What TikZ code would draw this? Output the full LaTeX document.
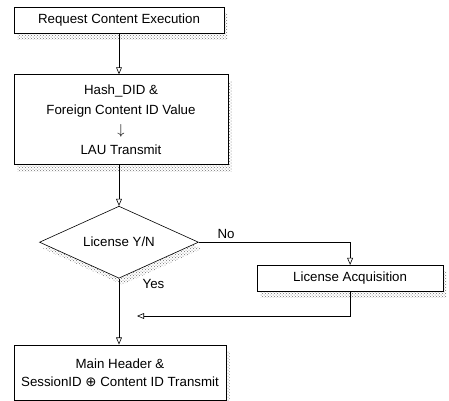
\documentclass[tikz,border=0pt]{standalone}
\usepackage{fontspec}
\setmainfont{Liberation Sans}
\newfontfamily\symfont{DejaVu Sans}
\usepackage{tikz}
\usetikzlibrary{positioning, arrows, shapes.geometric, shadows, patterns}
\newcommand{\Xor}{{\symfont ⊕}}
\tikzset{
    hatch shadow/.style={drop shadow={shadow xshift=3.5pt, shadow yshift=-6.5pt, opacity=1, pattern=crosshatch dots, pattern color=black!55}},
    flowbox/.style={draw, fill=white, rectangle, inner sep=0pt, align=center, hatch shadow},
    decide/.style={draw, fill=white, diamond, inner sep=0pt, aspect=2.2, hatch shadow},
}

\begin{document}
\begin{tikzpicture}[x=1pt, y=-1pt, line width=0.6pt, >=open triangle 45,
    font=\fontsize{13.3}{20}\selectfont]
    \useasboundingbox (0,0) rectangle (449,400);

    \node[flowbox, minimum width=210pt, minimum height=26pt] (req) at (119,20) {Request Content Execution};
    \node[flowbox, minimum width=214pt, minimum height=90pt, below=41pt of req, xshift=2pt] (hash)
        {Hash\_DID \&\\ Foreign Content ID Value\\ $\downarrow$\\ LAU Transmit};
    \node[decide, minimum width=159pt, minimum height=72pt, below=41pt of hash, xshift=-2pt] (lic) {License Y/N};
    \node[flowbox, minimum width=186pt, minimum height=26pt, right=58pt of lic, yshift=-36pt] (acq) {License Acquisition};
    \node[flowbox, minimum width=212pt, minimum height=55pt, below=66pt of lic, xshift=1pt,
        font=\fontsize{13.3}{18}\selectfont] (hdr) {Main Header \&\\ SessionID \Xor{} Content ID Transmit};
    \coordinate (back) at (137,316);

    \draw[->] (req) -- (req |- hash.north);
    \draw[->] (lic |- hash.south) -- (lic);
    \draw[->] (lic.east) -| node[pos=0.09, above]{No} (acq);
    \draw[->] (acq) |- (back);
    \draw[->] (lic) -- node[pos=0.09, right, xshift=20pt]{Yes} (lic |- hdr.north);
\end{tikzpicture}
\end{document}
